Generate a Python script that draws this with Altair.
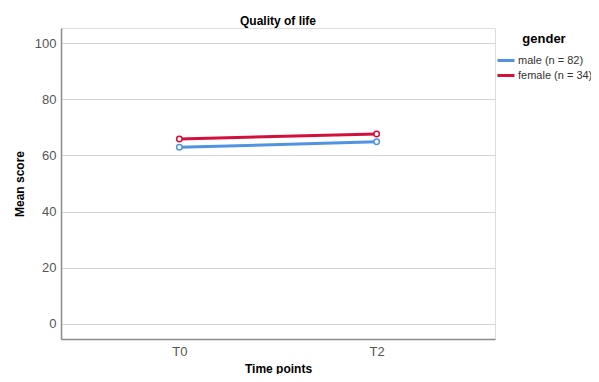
import altair as alt
import pandas as pd

time_points = ["T0", "T2"]
genders = ["male (n = 82)", "female (n = 34)"]
male_means = [62.9, 64.9]
female_means = [65.9, 67.7]
colors = ["#4f94e3", "#d2103b"]

rows = []
for t, m, f in zip(time_points, male_means, female_means):
    rows.append({"time": t, "gender": genders[0], "score": m})
    rows.append({"time": t, "gender": genders[1], "score": f})
df = pd.DataFrame(rows)

FONT = "Liberation Sans"

x = alt.X("time:N", scale=alt.Scale(type="point", domain=time_points, padding=0.6),
          axis=alt.Axis(title="Time points", labelAngle=0, grid=False, ticks=False,
                        domainColor="#8c8c8c", domainWidth=1.5, labelPadding=6,
                        labelFontSize=13, labelColor="#555555", labelFont=FONT,
                        titleFont=FONT, titleFontSize=12, titleFontWeight="bold",
                        titleColor="#000000", titlePadding=5))
y = alt.Y("score:Q", scale=alt.Scale(domain=[-5.5, 105.5], nice=False, zero=False),
          axis=alt.Axis(title="Mean score", values=[0, 20, 40, 60, 80, 100], ticks=False,
                        grid=True, gridColor="#d6d6d6", gridWidth=1,
                        domainColor="#8c8c8c", domainWidth=1.5, labelPadding=5,
                        labelFontSize=13, labelColor="#555555", labelFont=FONT,
                        titleFont=FONT, titleFontSize=12, titleFontWeight="bold",
                        titleColor="#000000", titlePadding=8))
color = alt.Color("gender:N", scale=alt.Scale(domain=genders, range=colors),
                  legend=alt.Legend(title="gender", orient="none", legendX=435, legendY=5,
                                    symbolType="stroke", symbolSize=289, symbolStrokeWidth=3,
                                    clipHeight=15, rowPadding=0,
                                    labelFont=FONT, labelFontSize=11, labelColor="#333333",
                                    titleFont=FONT, titleFontSize=13, titleFontWeight="bold",
                                    titleColor="#000000", titleAnchor="middle", titlePadding=7,
                                    labelOffset=2))

base = alt.Chart(df).encode(x=x, y=y, color=color)
lines = base.mark_line(strokeWidth=3)
points = base.mark_point(shape="circle", size=30, filled=False, fill="white",
                         fillOpacity=1, strokeWidth=1.5)

chart = (lines + points).properties(
    width=434, height=311,
    title=alt.TitleParams("Quality of life", font=FONT, fontSize=12, fontWeight="bold",
                          color="#000000", anchor="middle", offset=0),
    autosize=alt.AutoSizeParams(type="none"),
    padding={"left": 53, "top": 20, "right": 96, "bottom": 35},
).configure_view(stroke=None).configure(background="white")

chart.save("out.html", embed_options={"renderer": "svg", "actions": False})
